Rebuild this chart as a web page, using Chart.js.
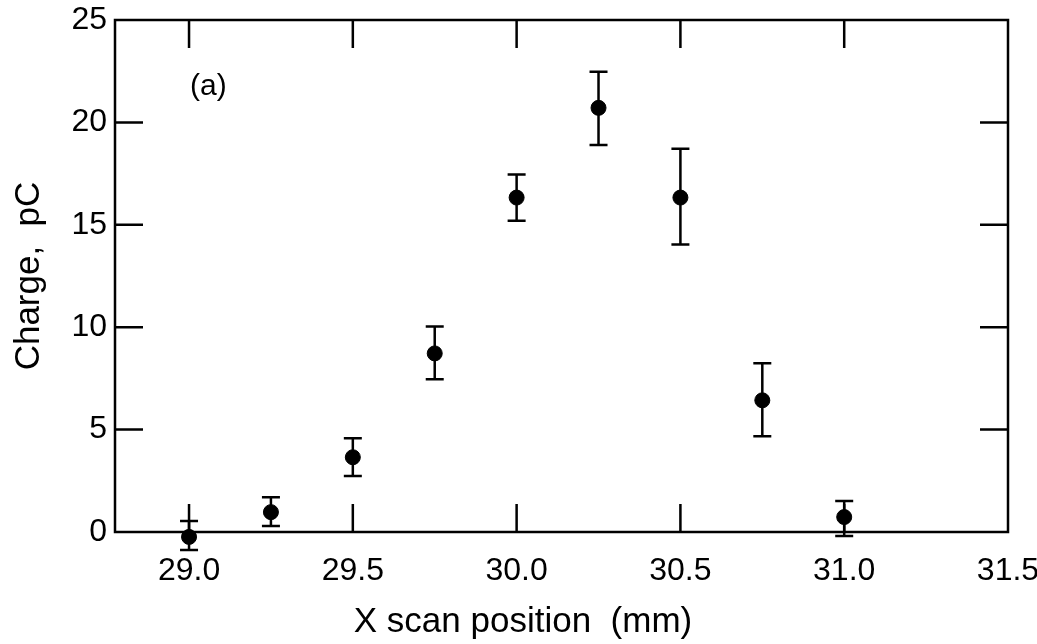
<!DOCTYPE html>
<html>
<head>
<meta charset="utf-8">
<script src="https://cdn.jsdelivr.net/npm/chart.js@4.4.0/dist/chart.umd.min.js"></script>
<style>
  body { margin: 0; background: #fff; }
</style>
</head>
<body>
<canvas id="chart" width="1037" height="644"></canvas>
<script>
// scan positions (mm) and measured charge (pC)
const xPos = [29.0, 29.25, 29.5, 29.75, 30.0, 30.25, 30.5, 30.75, 31.0];
const charge = [-0.24, 0.97, 3.65, 8.72, 16.33, 20.71, 16.33, 6.43, 0.73];
const errHigh = [0.54, 1.7, 4.58, 10.04, 17.45, 22.47, 18.71, 8.24, 1.51];
const errLow = [-0.88, 0.29, 2.73, 7.46, 15.2, 18.9, 14.04, 4.68, -0.2];

const xTicks = [29.0, 29.5, 30.0, 30.5, 31.0, 31.5];
const yTicks = [0, 5, 10, 15, 20, 25];
const xInnerTicks = [29.0, 29.5, 30.0, 30.5, 31.0];
const yInnerTicks = [5, 10, 15, 20];

const FONT = "'Liberation Sans Narrow', 'Liberation Sans', Arial, sans-serif";

const framePlugin = {
  id: 'frame',
  beforeDatasetsDraw(chart) {
    const ctx = chart.ctx;
    const xs = chart.scales.x, ys = chart.scales.y;
    ctx.save();
    ctx.strokeStyle = '#000';
    ctx.lineWidth = 2.5;
    // error bars
    xPos.forEach((v, i) => {
      const px = xs.getPixelForValue(v);
      const top = ys.getPixelForValue(errHigh[i]);
      const bot = ys.getPixelForValue(errLow[i]);
      ctx.beginPath();
      ctx.moveTo(px, top); ctx.lineTo(px, bot);
      ctx.moveTo(px - 9, top); ctx.lineTo(px + 9, top);
      ctx.moveTo(px - 9, bot); ctx.lineTo(px + 9, bot);
      ctx.stroke();
    });
    ctx.restore();
  },
  afterDraw(chart) {
    const ctx = chart.ctx;
    const a = chart.chartArea;
    const xs = chart.scales.x, ys = chart.scales.y;
    ctx.save();
    ctx.strokeStyle = '#000';
    ctx.lineWidth = 2.5;
    ctx.strokeRect(a.left, a.top, a.right - a.left, a.bottom - a.top);
    ctx.beginPath();
    const len = 28;
    xInnerTicks.forEach(v => {
      const px = xs.getPixelForValue(v);
      ctx.moveTo(px, a.bottom); ctx.lineTo(px, a.bottom - len);
      ctx.moveTo(px, a.top); ctx.lineTo(px, a.top + len);
    });
    yInnerTicks.forEach(v => {
      const py = ys.getPixelForValue(v);
      ctx.moveTo(a.left, py); ctx.lineTo(a.left + len, py);
      ctx.moveTo(a.right, py); ctx.lineTo(a.right - len, py);
    });
    ctx.stroke();

    ctx.fillStyle = '#000';
    ctx.font = '30px ' + FONT;
    ctx.textBaseline = 'alphabetic';
    ctx.textAlign = 'left';
    ctx.fillText('(a)', 190, 95);

    ctx.font = '35px ' + FONT;
    ctx.textAlign = 'center';
    ctx.fillText('X scan position  (mm)', 523, 632);
    ctx.restore();
  }
};

new Chart(document.getElementById('chart'), {
  type: 'scatter',
  data: {
    datasets: [{
      data: xPos.map((x, i) => ({ x: x, y: charge[i] })),
      backgroundColor: '#000',
      borderColor: '#000',
      pointRadius: 7.5,
      pointHoverRadius: 7.5,
      clip: false
    }]
  },
  options: {
    responsive: false,
    animation: false,
    devicePixelRatio: 1,
    layout: { padding: { top: 20, right: 29, left: 0, bottom: 0 } },
    plugins: { legend: { display: false }, tooltip: { enabled: false } },
    scales: {
      x: {
        type: 'linear',
        min: 28.774,
        max: 31.5,
        grid: { display: false, drawTicks: false },
        border: { display: false },
        afterFit: s => { s.height = 112; s.paddingLeft = 0; s.paddingRight = 0; },
        afterBuildTicks: s => { s.ticks = xTicks.map(v => ({ value: v })); },
        ticks: {
          color: '#000',
          padding: 20,
          font: { family: FONT, size: 32 },
          callback: v => Number(v).toFixed(1)
        }
      },
      y: {
        min: 0,
        max: 25,
        grid: { display: false, drawTicks: false },
        border: { display: false },
        afterFit: s => { s.width = 115; s.paddingTop = 0; s.paddingBottom = 0; },
        afterBuildTicks: s => { s.ticks = yTicks.map(v => ({ value: v })); },
        ticks: {
          color: '#000',
          padding: 8,
          font: { family: FONT, size: 32 }
        },
        title: {
          display: true,
          text: 'Charge,  pC',
          color: '#000',
          padding: { top: 8, bottom: 0 },
          font: { family: FONT, size: 35 }
        }
      }
    }
  },
  plugins: [framePlugin]
});
</script>
</body>
</html>
